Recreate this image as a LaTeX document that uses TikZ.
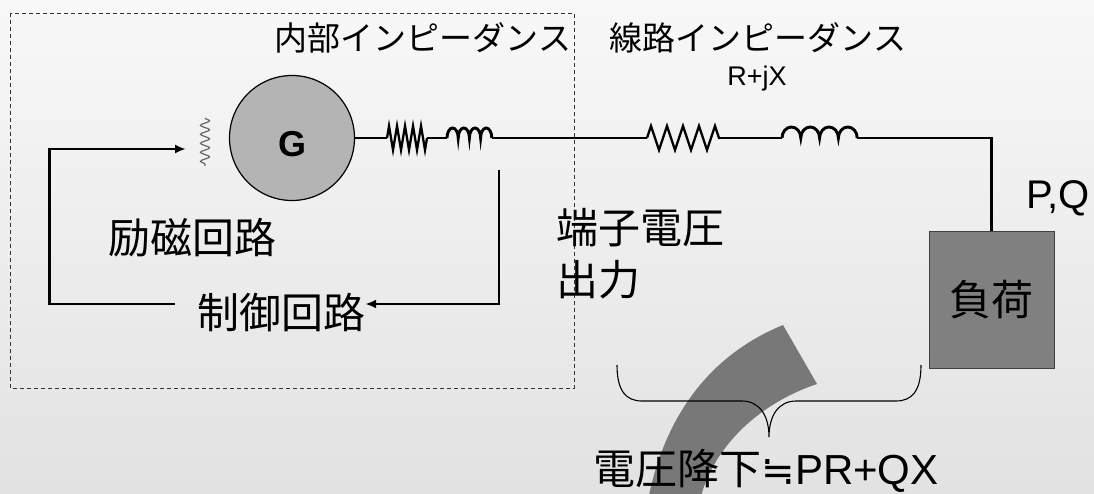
\documentclass[tikz,border=0pt]{standalone}
\usepackage{fontspec}
\setmainfont{Liberation Sans}
\newfontfamily\jp{Noto Sans CJK JP}
\newfontfamily\sym{DejaVu Sans}
\usepackage{xcolor}
\usepackage{tikz}
\usetikzlibrary{arrows.meta,decorations.pathmorphing,positioning}

\definecolor{bgtop}{HTML}{F8F8F8}
\definecolor{bgbot}{HTML}{E2E2E2}
\definecolor{gencol}{HTML}{B4B4B4}
\definecolor{loadcol}{HTML}{808080}
\definecolor{bandcol}{HTML}{787878}

\begin{document}
\begin{tikzpicture}[
        x=1pt, y=1pt,
        >={Latex[length=11pt,width=9pt]},
        wire/.style={line width=2.9pt},
        loopline/.style={line width=2.9pt},
        res/.style={line width=2.3pt, decorate, decoration={zigzag, segment length=#1, amplitude=12}},
        exc/.style={line width=1.2pt, black!60, decorate, decoration={snake, segment length=9, amplitude=4.5}},
        frame/.style={line width=0.9pt, black!80, dash pattern=on 4pt off 3pt},
        jbig/.style={font=\jp\fontsize{42}{52}\selectfont, inner sep=0pt},
        jtop/.style={font=\jp\fontsize{33}{40}\selectfont, inner sep=0pt},
        gen/.style={circle, draw, line width=1.2pt, fill=gencol, minimum size=125pt, font=\bfseries\fontsize{36}{40}\selectfont},
        loadbox/.style={draw=black!75, line width=1pt, fill=loadcol, minimum width=125pt, minimum height=136pt, font=\jp\fontsize{42}{50}\selectfont}
    ]
    \useasboundingbox (0,0) rectangle (1094,-494);
    \fill[top color=bgtop, bottom color=bgbot] (0,0) rectangle (1094,-494);

    % band behind the brace
    \fill[bandcol] (783,-325) .. controls (710,-355) and (665,-415) .. (648,-500)
        -- (700,-500) .. controls (712,-450) and (755,-405) .. (817,-384) -- cycle;

    \draw[frame] (10,-13) rectangle (574,-388);

    \node[gen] (G) at (292,-138) {\raisebox{-6pt}[\height][0pt]{G}};
    \node[loadbox] (load) at (991.5,-300) {負荷};

    \coordinate (r1a) at (387,-138);
    \coordinate (r1b) at (427,-138);
    \coordinate (l1a) at (447,-138);
    \coordinate (l1b) at (492,-138);
    \coordinate (r2a) at (647,-138);
    \coordinate (r2b) at (720,-138);
    \coordinate (l2a) at (782,-138);
    \coordinate (l2b) at (857,-138);

    % main line
    \draw[wire] (G.east) -- (r1a);
    \draw[res=8] (r1a) -- (r1b);
    \draw[wire] (r1b) -- (l1a);
    \draw[wire] (l1a) \foreach \k in {1,...,4} { arc[start angle=180, end angle=0, x radius=5.6, y radius=10] };
    \draw[wire] (l1b) -- (r2a);
    \draw[res=16] (r2a) -- (r2b);
    \draw[wire] (r2b) -- (l2a);
    \draw[wire] (l2a) \foreach \k in {1,...,4} { arc[start angle=180, end angle=0, x radius=9.4, y radius=11] };
    \draw[wire] (l2b) -| (load.north);

    % excitation winding
    \coordinate (ex1) at (205,-118);
    \coordinate (ex2) at (205,-166);
    \coordinate (exin) at (186,-149);
    \draw[exc] (ex1) -- (ex2);

    % feedback loop
    \node[jbig] (ctrl) at (281,-313) {制御回路};
    \coordinate (tap) at (499,-170);
    \draw[loopline, ->] ([shift={(-22,9)}]ctrl.west) -- ++(-125,0) |- (exin);
    \draw[loopline, ->] (tap) |- ([shift={(0,9)}]ctrl.east);

    % labels
    \node[jtop] (intimp) at (423,-38) {内部インピーダンス};
    \node[jtop] (lineimp) at (758,-38) {線路インピーダンス};
    \node[font=\fontsize{27}{32}\selectfont, inner sep=0pt] (rjx) at (757,-79) {R+jX};
    \node[jbig] (field) at (192,-238) {励磁回路};
    \node[jbig, align=left, anchor=west] (term) at (556,-254) {端子電圧\\出力};
    \node[font=\fontsize{40}{46}\selectfont, inner sep=0pt] (pq) at (1058,-198) {P,Q};

    % brace under the line
    \coordinate (bl) at (617,-365);
    \coordinate (br) at (921,-365);
    \draw[line width=1.1pt] (bl) .. controls ++(0,-26) and ++(-16,0) .. ++(25,-36)
        -- ++(100,0) .. controls ++(17,0) and ++(0,22) .. ++(27,-36)
        .. controls ++(0,22) and ++(-17,0) .. ++(27,36)
        -- ++(100,0) .. controls ++(16,0) and ++(0,-26) .. (br);

    \node[font=\fontsize{42}{50}\selectfont, inner sep=0pt] (drop) at (766,-471) {{\jp 電圧降下}{\sym\fontsize{40}{50}\selectfont ≒}PR+QX};

\end{tikzpicture}
\end{document}
